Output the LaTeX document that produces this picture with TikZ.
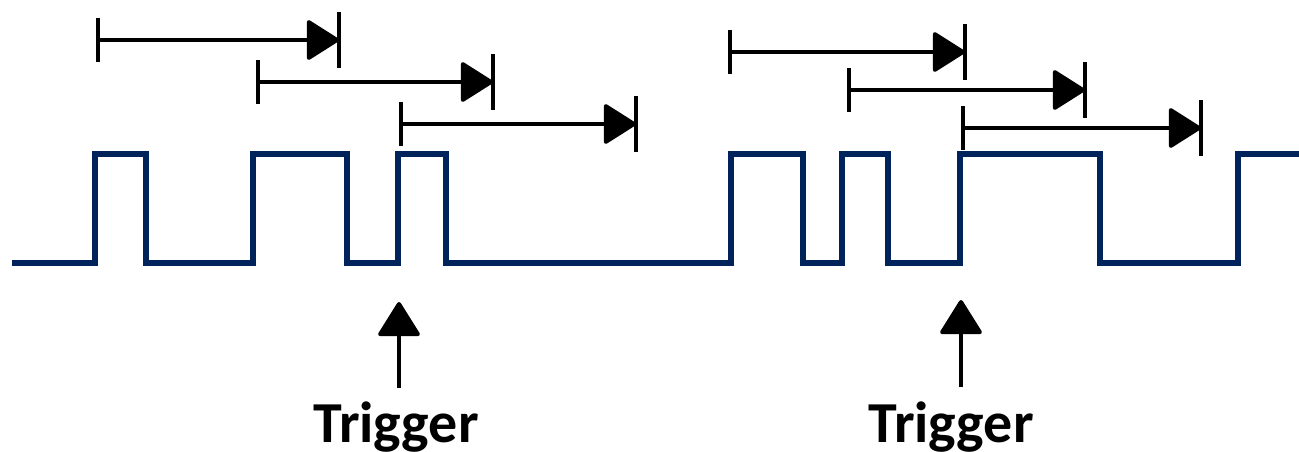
\documentclass[tikz,border=0pt]{standalone}
\usepackage{fontspec}
\setsansfont{Carlito}
\usetikzlibrary{arrows.meta,positioning}
\definecolor{navy}{HTML}{00235B}
\definecolor{ink}{HTML}{000000}
\tikzset{
  signal/.style={navy,line width=6pt,line join=miter},
  span/.style={ink,line width=4pt,-{Triangle[length=34pt,width=42pt,round]}},
  tick/.style={ink,line width=4pt},
  trigarrow/.style={ink,line width=4pt,-{Triangle[length=36pt,width=44pt,round]}},
  triglabel/.style={font=\fontsize{58}{60}\selectfont\sffamily\bfseries,inner sep=0pt,anchor=base}
}
\begin{document}
\begin{tikzpicture}[x=1pt,y=-1pt]
  \useasboundingbox (0,0) rectangle (1299,451);
  % the pulse train
  \draw[signal] (12,263) foreach \r/\f in {95/146,253/347,398/446,731/803,842/888,960/1100}
     { -| (\r,154) -| (\f,263) } -| (1238,154) -- (1299,154);
  % the time windows above it
  \foreach \a/\b/\y [count=\k] in {98/339/40,258/493/82,401/636/124,730/965/52,849/1085/90,963/1201/128}{
    \coordinate (s\k) at (\a,\y);
    \coordinate (e\k) at (\b,\y);
    \draw[span] (s\k) -- (e\k);
    \draw[tick] ([yshift=22pt]s\k) -- ([yshift=-22pt]s\k);
    \draw[tick] ([yshift=28pt]e\k) -- ([yshift=-28pt]e\k);
  }
  % trigger marks
  \node[triglabel] (trigA) at (396,442) {Trigger};
  \node[triglabel] (trigB) at (951,442) {Trigger};
  \coordinate (footA) at (399,388);
  \coordinate (tipA) at (399,302);
  \coordinate (footB) at (961,387);
  \coordinate (tipB) at (961,300);
  \draw[trigarrow] (footA) -- (tipA);
  \draw[trigarrow] (footB) -- (tipB);
\end{tikzpicture}
\end{document}
